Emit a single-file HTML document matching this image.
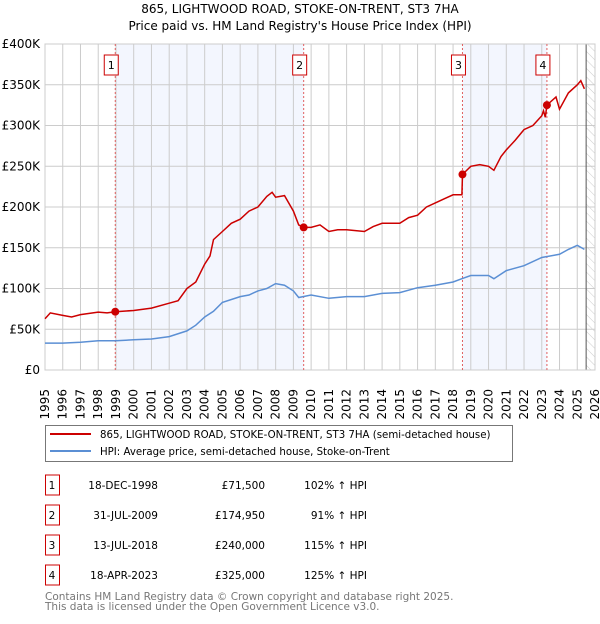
<!DOCTYPE html>
<html><head><meta charset="utf-8"><style>
body{margin:0;background:#fff;width:600px;height:620px;overflow:hidden;font-family:"DejaVu Sans","Liberation Sans",sans-serif}
svg text{font-family:"DejaVu Sans","Liberation Sans",sans-serif}
</style></head><body>
<svg id="c" width="600" height="620" xmlns="http://www.w3.org/2000/svg"></svg>
<script>
const redX=[1995,1995.3,1996,1996.5,1997,1998,1998.5,1998.96,2000,2001,2002,2002.5,2003,2003.5,2004,2004.3,2004.5,2005,2005.5,2006,2006.5,2007,2007.5,2007.8,2008,2008.5,2009,2009.3,2009.58,2010,2010.5,2011,2011.5,2012,2013,2013.5,2014,2015,2015.5,2016,2016.5,2017,2017.5,2018,2018.5,2018.53,2019,2019.5,2020,2020.3,2020.7,2021,2021.5,2022,2022.5,2023,2023.1,2023.2,2023.29,2023.8,2024,2024.5,2025,2025.2,2025.4];
const redV=[63,70,67,65,68,71,70,71.5,73,76,82,85,100,108,130,140,160,170,180,185,195,200,213,218,212,214,195,178,175,175,178,170,172,172,170,176,180,180,187,190,200,205,210,215,215,240,250,252,250,245,262,270,282,295,300,312,318,310,325,335,320,340,350,355,345];
const blueX=[1995,1996,1997,1998,1999,2000,2001,2002,2003,2003.5,2004,2004.5,2005,2006,2006.5,2007,2007.5,2008,2008.5,2009,2009.3,2010,2011,2012,2013,2014,2015,2016,2017,2018,2018.5,2019,2020,2020.3,2021,2022,2023,2024,2024.5,2025,2025.4];
const blueV=[33,33,34,36,36,37,38,41,48,55,65,72,83,90,92,97,100,106,104,97,89,92,88,90,90,94,95,101,104,108,112,116,116,112,122,128,138,142,148,153,148];
const saleX=[1998.96,2009.58,2018.53,2023.29];
const saleV=[71.5,174.95,240,325];
const saleLabels=["1","2","3","4"];
const yTicks=[0,50,100,150,200,250,300,350,400];
const yTickLabels=["£0","£50K","£100K","£150K","£200K","£250K","£300K","£350K","£400K"];
const xYears=[1995,1996,1997,1998,1999,2000,2001,2002,2003,2004,2005,2006,2007,2008,2009,2010,2011,2012,2013,2014,2015,2016,2017,2018,2019,2020,2021,2022,2023,2024,2025,2026];
const saleDates=["18-DEC-1998","31-JUL-2009","13-JUL-2018","18-APR-2023"];
const salePrices=["£71,500","£174,950","£240,000","£325,000"];
const salePct=["102% ↑ HPI","91% ↑ HPI","115% ↑ HPI","125% ↑ HPI"];

const L=45,R=595,T=44,B=370;
const X=v=>L+(v-1995)/31*(R-L);
const Y=v=>B-v/400*(B-T);
const svg=document.getElementById('c');
function el(tag,attrs,parent){const e=document.createElementNS('http://www.w3.org/2000/svg',tag);for(const k in attrs)e.setAttribute(k,attrs[k]);(parent||svg).appendChild(e);return e;}
function txt(s,attrs,parent){const e=el('text',attrs,parent);e.textContent=s;return e;}

let t=txt("865, LIGHTWOOD ROAD, STOKE-ON-TRENT, ST3 7HA",{x:300,y:13,'text-anchor':'middle','font-size':12});

t=txt("Price paid vs. HM Land Registry's House Price Index (HPI)",{x:300,y:30,'text-anchor':'middle','font-size':12});


for(const [a,b] of [[0,1],[2,3]]){
  const r=el('rect',{x:X(saleX[a]),y:T,width:X(saleX[b])-X(saleX[a]),height:B-T,fill:'#f3f6fe'});
  
}
const defs=el('defs',{});
const pat=el('pattern',{id:'h',width:6,height:6,patternUnits:'userSpaceOnUse',patternTransform:'rotate(-45)'},defs);
el('line',{x1:0,y1:0,x2:0,y2:6,stroke:'#ccc','stroke-width':1},pat);
let hr=el('rect',{x:X(2025.5),y:T,width:R-X(2025.5),height:B-T,fill:'url(#h)'});

const grid=el('g',{});

xYears.forEach(y=>el('line',{x1:X(y),x2:X(y),y1:T,y2:B,stroke:'#ccc','stroke-width':1},grid));
yTicks.forEach(v=>el('line',{x1:L,x2:R,y1:Y(v),y2:Y(v),stroke:'#ccc','stroke-width':1},grid));
el('line',{x1:X(2025.5),x2:X(2025.5),y1:T,y2:B,stroke:'#555','stroke-width':1});
el('rect',{x:L,y:T,width:R-L,height:B-T,fill:'none',stroke:'#ccc'});
yTicks.forEach((v,i)=>{const e=txt(yTickLabels[i],{x:40,y:Y(v)+4,'text-anchor':'end','font-size':12});
});
xYears.forEach(y=>{const e=txt(String(y),{x:X(y)+4,y:389,'text-anchor':'end','font-size':12,transform:`rotate(-90 ${X(y)+4} 389)`});
});
saleX.forEach((x,i)=>{
  el('line',{x1:X(x),x2:X(x),y1:T,y2:B,stroke:'#e06060','stroke-width':1,'stroke-dasharray':'2,2'});
  const g=el('g',{});
  
  el('rect',{x:X(x)-11,y:55,width:14,height:20,fill:'#fff',stroke:'#c00'},g);
  txt(saleLabels[i],{x:X(x)-4,y:69,'text-anchor':'middle','font-size':11},g);
});
function path(xs,vs,color,name){
  const d=xs.map((x,i)=>(i?'L':'M')+X(x).toFixed(1)+','+Y(vs[i]).toFixed(1)).join('');
  const p=el('path',{d,fill:'none',stroke:color,'stroke-width':1.5});
  
}
path(blueX,blueV,'#5b8fd4','hpi-line');
path(redX,redV,'#cc0000','price-line');
saleX.forEach((x,i)=>{const c=el('circle',{cx:X(x),cy:Y(saleV[i]),r:4,fill:'#cc0000'});
});

const lg=el('g',{});

el('rect',{x:45.5,y:425.5,width:467,height:36,fill:'#fff',stroke:'#777'},lg);
el('line',{x1:50,x2:91,y1:434,y2:434,stroke:'#cc0000','stroke-width':2},lg);
el('line',{x1:50,x2:91,y1:451,y2:451,stroke:'#5b8fd4','stroke-width':2},lg);
txt("865, LIGHTWOOD ROAD, STOKE-ON-TRENT, ST3 7HA (semi-detached house)",{x:100,y:438,'font-size':10.2},lg);
txt("HPI: Average price, semi-detached house, Stoke-on-Trent",{x:100,y:455,'font-size':10.2},lg);

saleDates.forEach((d,i)=>{
  const y=483+i*30;
  const g=el('g',{});
  
  el('rect',{x:45.5,y:y-8,width:14,height:20,fill:'#fff',stroke:'#c00'},g);
  txt(saleLabels[i],{x:52,y:y+6,'text-anchor':'middle','font-size':10.5},g);
  txt(d,{x:158,y:y+6,'text-anchor':'end','font-size':10.5},g);
  txt(salePrices[i],{x:265,y:y+6,'text-anchor':'end','font-size':10.5},g);
  txt(salePct[i],{x:367,y:y+6,'text-anchor':'end','font-size':10.5},g);
});
t=txt("Contains HM Land Registry data © Crown copyright and database right 2025.",{x:45,y:600,'font-size':10.5,fill:'#777'});

t=txt("This data is licensed under the Open Government Licence v3.0.",{x:45,y:610,'font-size':10.5,fill:'#777'});

</script>
</body></html>
